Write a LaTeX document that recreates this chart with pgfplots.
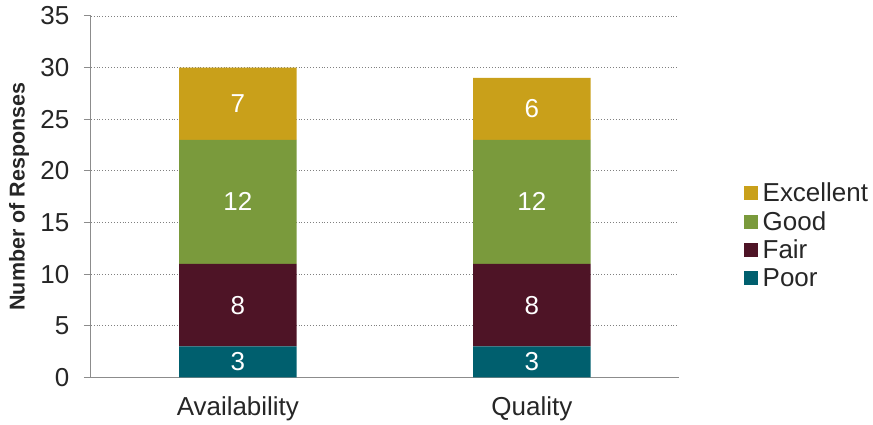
\documentclass[border=0pt]{standalone}
\usepackage{pgfplots}
\pgfplotsset{compat=1.18}
\usepackage{fontspec}
\setmainfont{Liberation Sans}
\definecolor{cExc}{HTML}{C9A01A}
\definecolor{cGood}{HTML}{7A9A3C}
\definecolor{cFair}{HTML}{4E1426}
\definecolor{cPoor}{HTML}{005F6E}
\definecolor{axgray}{HTML}{8C8C8C}
\begin{document}
\begin{tikzpicture}
\begin{axis}[
  scale only axis,
  width=589bp, height=362bp,
  ybar stacked,
  bar width=0.4,
  xmin=-0.5, xmax=1.5,
  ymin=0, ymax=35,
  xtick={0,1},
  xticklabels={Availability,Quality},
  extra x ticks={-0.5,0.5,1.5},
  extra x tick labels={},
  extra x tick style={major tick length=8bp, tick style={axgray, line width=1pt}, grid=none},
  ytick={0,5,...,35},
  axis x line*=bottom,
  axis y line*=left,
  axis line style={axgray, line width=1.2pt, -},
  x tick style={draw=none},
  y tick style={axgray, line width=1pt},
  tick align=outside,
  major tick length=7bp,
  ymajorgrids,
  major grid style={gray, line width=0.9pt, dotted},
  tick label style={font=\fontsize{26bp}{30bp}\selectfont, text=black!85},
  xticklabel style={yshift=-9bp},
  yticklabel style={xshift=-11bp},
  /pgf/number format/assume math mode=true,
  ylabel={\bfseries Number of Responses},
  ylabel style={font=\fontsize{21.5bp}{24bp}\selectfont, text=black!85, at={(axis description cs:-0.1222,0.5)}, anchor=center},
  nodes near coords,
  point meta=rawy,
  every node near coord/.append style={text=white, font=\fontsize{26bp}{30bp}\selectfont, anchor=center},
  legend style={at={(1.11,0.5385)}, anchor=north west, draw=none, fill=none,
    font=\fontsize{26bp}{30bp}\selectfont, text=black!85,
    row sep=8.2bp, inner sep=0pt, nodes={inner xsep=5bp, inner ysep=0pt}},
  legend cell align=left,
  reverse legend,
  legend image code/.code={\fill[#1] (0bp,-7bp) rectangle (14bp,7bp);},
]
\addplot[fill=cPoor, draw=none] coordinates {(0,3) (1,3)};
\addplot[fill=cFair, draw=none] coordinates {(0,8) (1,8)};
\addplot[fill=cGood, draw=none] coordinates {(0,12) (1,12)};
\addplot[fill=cExc, draw=none] coordinates {(0,7) (1,6)};
\legend{Poor,Fair,Good,Excellent}
\end{axis}
\path[use as bounding box] (-91bp,-45bp) rectangle (782bp,378bp);
\end{tikzpicture}
\end{document}
